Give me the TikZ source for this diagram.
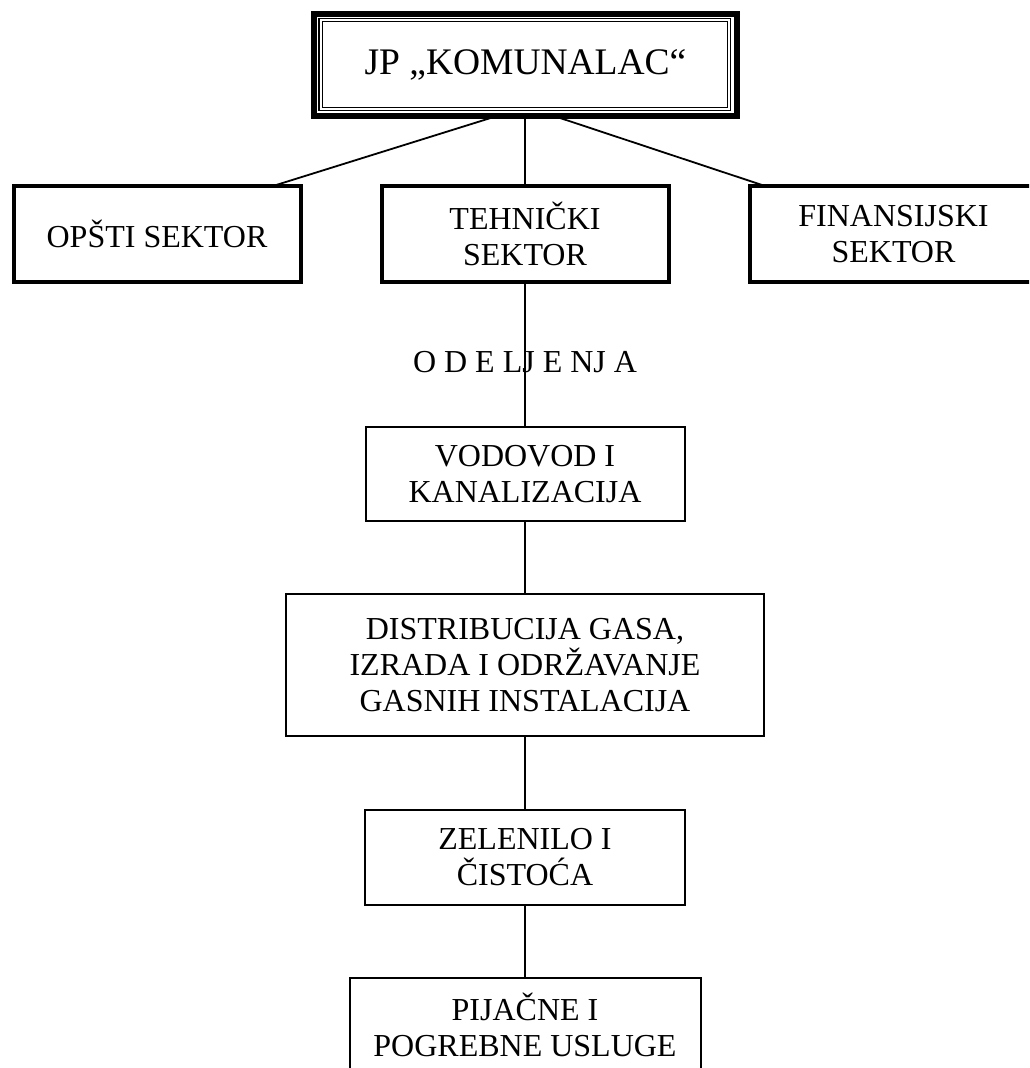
\documentclass[tikz,border=0pt]{standalone}
\usepackage{fontspec}
\setmainfont{Liberation Serif}
\begin{document}
\begin{tikzpicture}[x=1pt,y=1pt,
  box/.style={draw, rectangle, outer sep=0pt, inner sep=0pt, align=center,
    font=\fontsize{32}{36}\selectfont},
  sector/.style={box, line width=4pt, minimum width=287pt, minimum height=96pt},
  dept/.style={box, line width=2pt},
  link/.style={line width=1.8pt}
]
\useasboundingbox (0,0) rectangle (1029,1068);
\clip (0,0) rectangle (1029,1068);
\fill[white] (0,0) rectangle (1029,1068);

% top box
\node[box, line width=6pt, minimum width=423pt, minimum height=102.5pt,
  font=\fontsize{37.5}{41}\selectfont] (top) at (525.5,1002.75) {JP „KOMUNALAC“};
\draw[line width=1.2pt] ([shift={(5,-4.5)}]top.north west) rectangle ([shift={(-6.5,6)}]top.south east);
\draw[line width=1.2pt] ([shift={(8.5,-7.5)}]top.north west) rectangle ([shift={(-9.5,9)}]top.south east);

% sectors
\node[sector] (opsti) at (157,834) {OPŠTI SEKTOR};
\node[sector] (tehn) at (525,834) {TEHNIČKI\\SEKTOR};
\node[sector] (fin) at (893.5,834) {FINANSIJSKI\\SEKTOR};

\coordinate (tL) at ([xshift=-30pt]top.south);
\coordinate (tR) at ([xshift=30pt]top.south);
\coordinate (oT) at ([xshift=116pt]opsti.north);
\coordinate (fT) at ([xshift=-128.5pt]fin.north);
\draw[link] (tL) -- (oT);
\draw[link] (top.south -| tehn.north) -- (tehn.north);
\draw[link] (tR) -- (fT);

% departments
\node[font=\fontsize{32}{36}\selectfont, anchor=base, inner sep=0pt] (odj) at (525,695) {O D E LJ E NJ A};
\node[dept, minimum width=319pt, minimum height=94pt] (vod) at (525,594) {VODOVOD I\\KANALIZACIJA};
\node[dept, minimum width=478pt, minimum height=142pt] (dist) at (525,403) {DISTRIBUCIJA GASA,\\IZRADA I ODRŽAVANJE\\GASNIH INSTALACIJA};
\node[dept, minimum width=320pt, minimum height=95pt] (zel) at (525,210.5) {ZELENILO I\\ČISTOĆA};
\node[dept, minimum width=351pt, minimum height=94pt] (pij) at (525,43) {PIJAČNE I\\POGREBNE USLUGE};

\draw[link] (tehn.south) -- (vod.north);
\draw[link] (vod.south) -- (dist.north);
\draw[link] (dist.south) -- (zel.north);
\draw[link] (zel.south) -- (pij.north);
\end{tikzpicture}
\end{document}
